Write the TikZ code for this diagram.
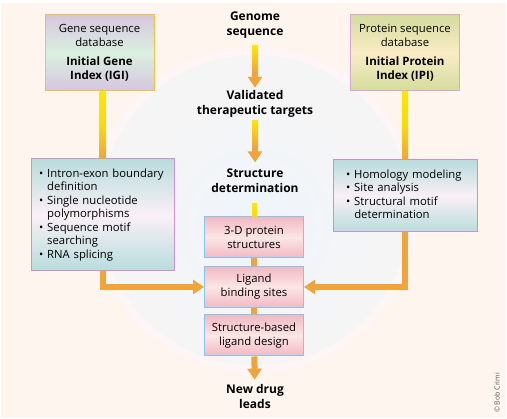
\documentclass[tikz,border=0pt]{standalone}
\usepackage{fontspec}
\setmainfont{Open Sans}
\usetikzlibrary{calc,arrows.meta}

\definecolor{peach}{RGB}{254,245,238}
\definecolor{halo}{RGB}{254,246,246}
\definecolor{disc}{RGB}{245,245,245}
\definecolor{skyish}{RGB}{238,245,253}
\definecolor{flowor}{RGB}{240,164,60}
\definecolor{flowye}{RGB}{255,230,0}
\definecolor{lav}{RGB}{214,198,222}
\definecolor{mint}{RGB}{218,240,224}
\definecolor{olive}{RGB}{212,220,156}
\definecolor{cream}{RGB}{250,236,198}
\definecolor{listteal}{RGB}{184,220,220}
\definecolor{blush}{RGB}{250,240,246}
\definecolor{rose}{RGB}{242,184,194}
\definecolor{rosepale}{RGB}{252,230,230}
\definecolor{dbgold}{RGB}{245,192,64}
\definecolor{orchid}{RGB}{208,144,200}
\definecolor{skyline}{RGB}{128,200,240}

\tikzset{
  stage/.style={font=\bfseries\fontsize{12}{15}\selectfont, align=center, inner sep=1pt},
  dbbox/.style={draw, line width=1pt, minimum width=109pt, minimum height=76pt,
    align=center, font=\fontsize{11.3}{14}\selectfont},
  listbox/.style={draw=orchid, line width=1pt, align=left, inner ysep=4pt,
    top color=listteal, bottom color=listteal, middle color=blush,
    font=\fontsize{11.3}{13.5}\selectfont},
  pinkbox/.style={draw=skyline, line width=1pt, minimum width=99pt, minimum height=41pt,
    align=center, top color=rose, bottom color=rose, middle color=rosepale,
    font=\fontsize{11.3}{14}\selectfont},
  flow/.style={draw=flowor, line width=6pt},
  tip/.style={-{Triangle[width=14pt,length=11pt]}}
}

\begin{document}
\begin{tikzpicture}[x=1pt,y=-1pt]
  \useasboundingbox (0,0) rectangle (507,419);
  \fill[white] (0,0) rectangle (507,419);
  \fill[peach] (1,3) rectangle (506,418);
  \fill[halo] (255,210) circle (163pt);
  \fill[disc] (255,210) circle (155pt);
  \begin{scope}
    \clip (255,210) circle (155pt);
    \shade[inner color=skyish, outer color=disc] (255,225) circle (120pt);
  \end{scope}

  % middle column
  \node[stage] (genome) at (255,25.5) {Genome\\sequence};
  \node[stage] (valid) at (255,103.5) {Validated\\therapeutic targets};
  \node[stage] (struct) at (255,180.5) {Structure\\determination};
  \node[pinkbox] (prot3d) at (254,237.5) {3-D protein\\structures};
  \node[pinkbox] (ligand) at (254,287) {Ligand\\binding sites};
  \node[pinkbox] (design) at (254,335.5) {Structure-based\\ligand design};
  \node[stage] (leads) at (255,397) {New drug\\leads};

  % databases
  \node[dbbox, draw=dbgold, top color=lav, bottom color=lav, middle color=mint]
    (genedb) at (99.5,53) {Gene sequence\\database\\[5pt]
    \textbf{\fontsize{11.5}{13.5}\selectfont Initial Gene}\\
    \textbf{\fontsize{11.5}{13.5}\selectfont Index (IGI)}};
  \node[dbbox, draw=orchid!80, top color=olive, bottom color=olive, middle color=cream]
    (protdb) at (405,53) {Protein sequence\\database\\[5pt]
    \textbf{\fontsize{11.5}{13.5}\selectfont Initial Protein}\\
    \textbf{\fontsize{11.5}{13.5}\selectfont Index (IPI)}};

  \node[listbox, text width=127pt, inner xsep=8pt, minimum height=112pt]
    (genelist) at (102.5,215) {\begin{tabular}{@{}l@{\hspace{4pt}}l@{}}
      \textbullet & Intron-exon boundary\\
                  & definition\\
      \textbullet & Single nucleotide\\
                  & polymorphisms\\
      \textbullet & Sequence motif\\
                  & searching\\
      \textbullet & RNA splicing
    \end{tabular}};
  \node[listbox, text width=118pt, inner xsep=13pt, minimum height=72pt]
    (protlist) at (405,196) {\begin{tabular}{@{}l@{\hspace{4pt}}l@{}}
      \textbullet & Homology modeling\\
      \textbullet & Site analysis\\
      \textbullet & Structural motif\\
                  & determination
    \end{tabular}};

  \node[rotate=90, text=black!65, font=\fontsize{7}{8}\selectfont]
    (credit) at (497,393) {\textcopyright\ Bob Crimi};

  % arrows
  \draw[flow, tip, shorten <=6pt, shorten >=1pt] (genome) -- (valid);
  \draw[flow, tip, shorten <=2pt, shorten >=5pt] (valid) -- (struct);
  \draw[flow, tip, shorten >=4pt] (design) -- (leads);
  \foreach \a/\b in {prot3d/ligand, ligand/design}{
    \draw[flow] (\a) -- (\b);
  }
  \draw[flow, tip] (genelist.south) |- (ligand.west);
  \draw[flow, tip] (protlist.south) |- (ligand.east);

  % yellow parts of the shafts
  \shade[top color=flowye, bottom color=flowor] ($(genome.south)+(-3,6)$) rectangle ($(valid.north)+(3,-16)$);
  \shade[top color=flowye, bottom color=flowor] ($(valid.south)+(-3,2)$) rectangle ($(struct.north)+(3,-20)$);
  \shade[top color=flowye, bottom color=flowye!80!flowor] ($(struct.south)+(-3,10)$) rectangle ($(prot3d.north)+(3,0)$);
  \shade[top color=flowye, bottom color=flowor, middle color=flowye!80!flowor]
    ($(genelist.north |- genedb.south)+(-3,0)$) rectangle ($(genelist.north)+(3,0)$);
  \shade[top color=flowye, bottom color=flowor, middle color=flowye!80!flowor]
    ($(protdb.south)+(-3,0)$) rectangle ($(protlist.north)+(3,0)$);
\end{tikzpicture}
\end{document}
